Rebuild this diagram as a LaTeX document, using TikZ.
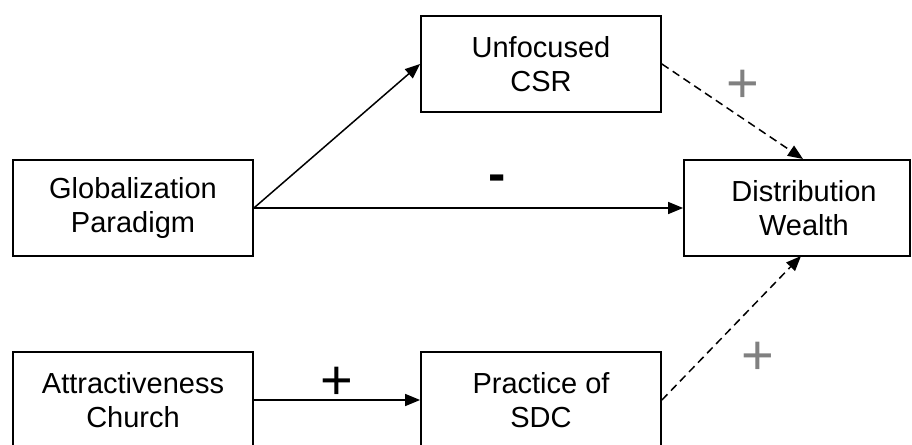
\documentclass[tikz,border=0pt]{standalone}
\usepackage{fontspec}
\setmainfont{Liberation Sans}
\usetikzlibrary{arrows.meta}
\definecolor{plusgray}{RGB}{128,128,128}
\begin{document}
\begin{tikzpicture}[x=1pt,y=-1pt,
  box/.style={draw=black,line width=1.8pt,minimum width=240pt,minimum height=96pt,inner sep=0pt,align=center,font=\fontsize{29}{33.5}\selectfont},
  lbl/.style={align=center,font=\fontsize{29}{33.5}\selectfont,inner sep=0pt},
  conn/.style={line width=1.5pt,-{Triangle[length=15pt,width=12pt]}},
  dconn/.style={conn,dash pattern=on 8pt off 5pt},
  plusg/.style={text=plusgray,font=\fontsize{56}{56}\selectfont,inner sep=0pt},
  plusb/.style={text=black,font=\fontsize{56}{56}\selectfont,inner sep=0pt}]
\useasboundingbox (0,0) rectangle (912,444);
\clip (0,0) rectangle (912,444);
\node[box] (glob) at (133,208) {Globalization\\Paradigm};
\node[box] (ucsr) at (541,64) {Unfocused\\CSR};
\node[box,minimum width=226pt] (dist) at (797,208) {};
\node[lbl] (distt) at (804,208) {Distribution\\Wealth};
\node[box] (attr) at (133,400) {Attractiveness\\Church};
\node[box] (sdc) at (541,400) {Practice of\\SDC};
\coordinate (d1) at (803,159);
\coordinate (d2) at (801,256);
\draw[conn] (glob.east) -- (ucsr.west);
\draw[conn] (glob.east) -- (dist.west);
\draw[dconn] (ucsr.east) -- (d1);
\draw[dconn] (sdc.east) -- (d2);
\draw[conn] (attr.east) -- (sdc.west);
\node[plusg] (p1) at (743,86) {+};
\node[plusg] (p2) at (758,358) {+};
\node[plusb] (p3) at (337,383) {+};
\node[font=\bfseries\fontsize{52}{52}\selectfont,inner sep=0pt] (m1) at (497,183) {-};
\end{tikzpicture}
\end{document}
